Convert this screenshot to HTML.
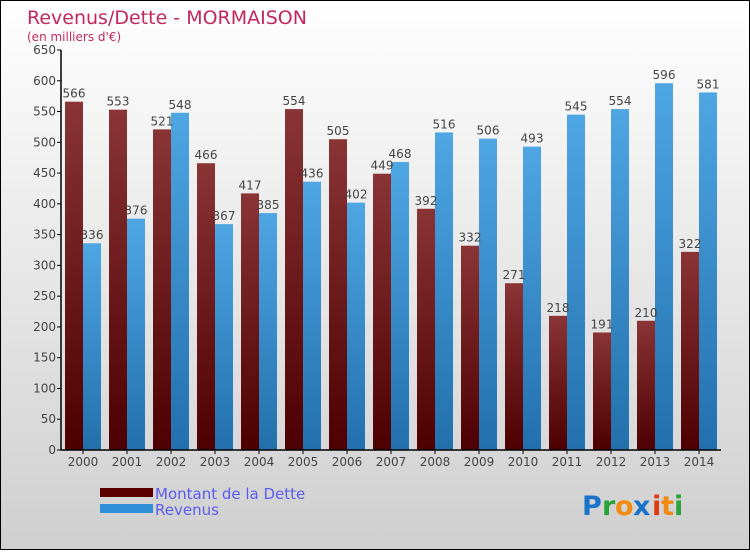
<!DOCTYPE html>
<html><head><meta charset="utf-8"><style>
body{margin:0}
#c{width:750px;height:550px;position:relative;font-family:"DejaVu Sans","Liberation Sans",sans-serif;}
</style></head><body>
<div id="c">
<svg id="s" width="750" height="550" xmlns="http://www.w3.org/2000/svg">
<defs>
<linearGradient id="bg" x1="0" y1="0" x2="0" y2="1"><stop offset="0" stop-color="#ffffff"/><stop offset="1" stop-color="#cfcfcf"/></linearGradient>
<linearGradient id="gd" x1="0" y1="0" x2="0" y2="1"><stop offset="0" stop-color="#8a3436"/><stop offset="1" stop-color="#4d0000"/></linearGradient>
<linearGradient id="gr" x1="0" y1="0" x2="0" y2="1"><stop offset="0" stop-color="#4ea6e3"/><stop offset="1" stop-color="#2270ad"/></linearGradient>
</defs>
<rect x="0.5" y="0.5" width="749" height="549" fill="url(#bg)" stroke="#000"/>
<text x="27" y="24" font-size="19" fill="#c2285e">Revenus/Dette - MORMAISON</text>
<text x="27" y="41" font-size="12" fill="#c2285e">(en milliers d'€)</text>
<g id="plot"></g>
<rect x="100" y="488" width="53" height="9" fill="#5a0000"/>
<text x="155" y="499" font-size="15" fill="#5b5bef">Montant de la Dette</text>
<rect x="100" y="504" width="53" height="9" fill="#2f90d8"/>
<text x="155" y="515" font-size="15" fill="#5b5bef">Revenus</text>
<g font-size="27" font-weight="bold">
<text x="582" y="515" fill="#1a73c8">P</text><text x="602" y="515" fill="#2aa33a">r</text><text x="615" y="515" fill="#f08a10">o</text><text x="633" y="515" fill="#1a73c8">x</text><text x="652" y="515" fill="#e03a10">i</text><text x="661" y="515" fill="#f08a10">t</text><text x="674" y="515" fill="#2aa33a">i</text>
</g>
</svg>
</div>
<script>
const years=["2000","2001","2002","2003","2004","2005","2006","2007","2008","2009","2010","2011","2012","2013","2014"];
const dette=[566,553,521,466,417,554,505,449,392,332,271,218,191,210,322];
const revenus=[336,376,548,367,385,436,402,468,516,506,493,545,554,596,581];
const yTicks=[0,50,100,150,200,250,300,350,400,450,500,550,600,650];
const NS="http://www.w3.org/2000/svg";
const g=document.getElementById('plot');
const x0=61,x1=721,y0=450,yTop=50,yMax=650;
const gw=(x1-x0)/years.length;
function y(v){return y0-(v/yMax)*(y0-yTop);}
function cx(i){return x0+gw*(i+0.5);}
function el(t,a){const e=document.createElementNS(NS,t);for(const k in a)e.setAttribute(k,a[k]);g.appendChild(e);return e;}
yTicks.forEach(v=>{
 const l=el('line',{x1:x0-4,x2:x0,y1:y(v),y2:y(v),stroke:'#000'});
 
 
 const t=el('text',{x:x0-5,y:y(v)+4,'text-anchor':'end','font-size':12,fill:'#444'});
 t.textContent=v;
 
 
});
years.forEach((yr,i)=>{
 const c=cx(i);
 const a=el('rect',{x:c-18,y:y(dette[i]),width:18,height:y0-y(dette[i]),fill:'url(#gd)'});
 
 
 const b=el('rect',{x:c,y:y(revenus[i]),width:18,height:y0-y(revenus[i]),fill:'url(#gr)'});
 
 
 const la=el('text',{x:c-9,y:y(dette[i])-4,'text-anchor':'middle','font-size':12,fill:'#444'});
 la.textContent=dette[i];
 
 
 const lb=el('text',{x:c+9,y:y(revenus[i])-4,'text-anchor':'middle','font-size':12,fill:'#444'});
 lb.textContent=revenus[i];
 
 
 const tk=el('line',{x1:c,x2:c,y1:y0,y2:y0+4,stroke:'#000'});
 
 
 const xl=el('text',{x:c,y:y0+16,'text-anchor':'middle','font-size':12,fill:'#444'});
 xl.textContent=yr;
 
 
});
const ya=el('line',{x1:x0,x2:x0,y1:yTop,y2:y0,stroke:'#000','stroke-width':1.5});


const xa=el('line',{x1:x0,x2:x1,y1:y0,y2:y0,stroke:'#000','stroke-width':1.5});


</script>
</body></html>
